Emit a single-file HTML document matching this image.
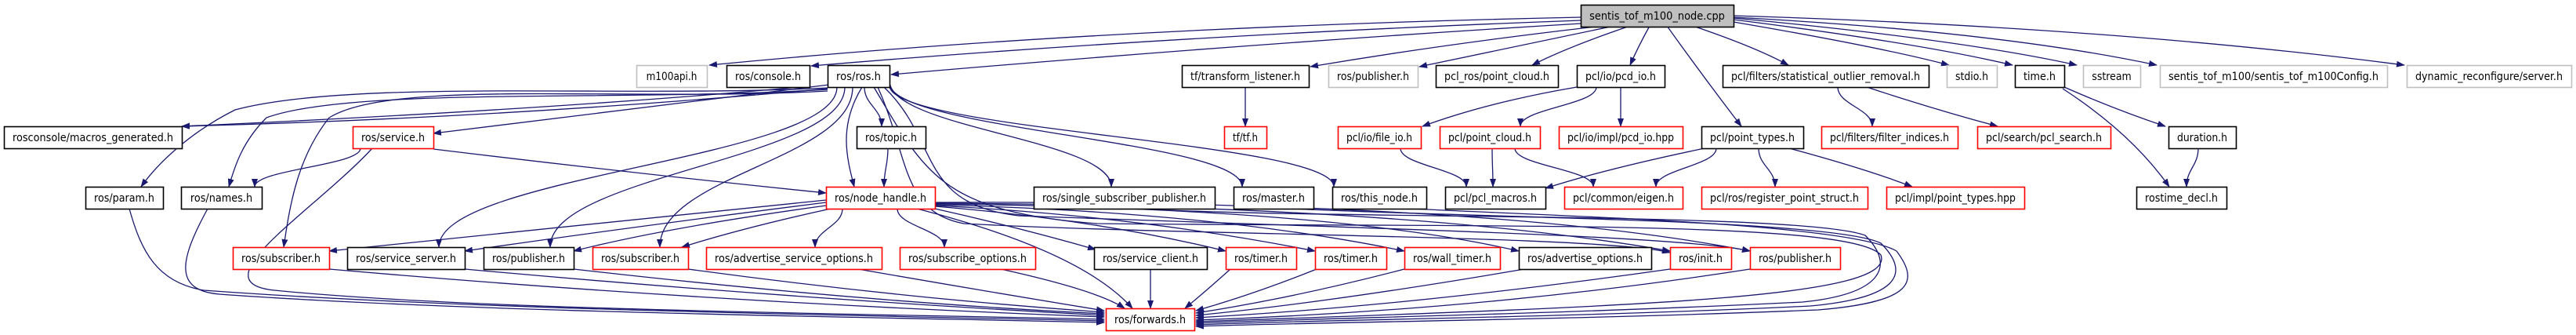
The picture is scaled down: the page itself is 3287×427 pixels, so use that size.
<!DOCTYPE html>
<html><head><meta charset="utf-8"><style>
html,body{margin:0;padding:0;background:#fff;width:3287px;height:427px;overflow:hidden}
svg{display:block}
text{font-family:"DejaVu Sans","Liberation Sans",sans-serif;font-size:14px;fill:#000}
</style></head><body>
<svg id="g" width="3287" height="427" viewBox="0 0 3287 427" xmlns="http://www.w3.org/2000/svg">
<defs><marker id="a" markerWidth="11" markerHeight="8" refX="10" refY="4" orient="auto" markerUnits="userSpaceOnUse"><path d="M0,0 L11,4 L0,8 z" fill="#191970"/></marker></defs>
<g id="edges" fill="none" stroke="#191970" stroke-width="1.3"></g>
<g id="nodes"></g>
</svg>
<script>
var R=[6,83,161,238,315,393];
var N={
S:[2017,2212,0,'sentis_tof_m100_node.cpp','k'],
m100:[812,902,1,'m100api.h','g'],console:[927,1033,1,'ros/console.h','b'],ros:[1056,1135,1,'ros/ros.h','b'],
tfl:[1508,1670,1,'tf/transform_listener.h','b'],pubg:[1695,1809,1,'ros/publisher.h','g'],pclros:[1832,1988,1,'pcl_ros/point_cloud.h','b'],
pcdio:[2012,2124,1,'pcl/io/pcd_io.h','b'],stat:[2198,2461,1,'pcl/filters/statistical_outlier_removal.h','b'],
stdio:[2484,2548,1,'stdio.h','g'],time:[2571,2634,1,'time.h','b'],sstream:[2658,2731,1,'sstream','g'],
config:[2756,3046,1,'sentis_tof_m100/sentis_tof_m100Config.h','g'],dyn:[3071,3281,1,'dynamic_reconfigure/server.h','g'],
macros:[5,232,2,'rosconsole/macros_generated.h','b'],service:[450,553,2,'ros/service.h','r'],topic:[1093,1181,2,'ros/topic.h','b'],
tf:[1562,1616,2,'tf/tf.h','r'],fileio:[1707,1813,2,'pcl/io/file_io.h','r'],pcloud:[1837,1965,2,'pcl/point_cloud.h','r'],
pcdhpp:[1989,2147,2,'pcl/io/impl/pcd_io.hpp','r'],ptypes:[2171,2301,2,'pcl/point_types.h','b'],filt:[2324,2498,2,'pcl/filters/filter_indices.h','r'],
search:[2523,2693,2,'pcl/search/pcl_search.h','r'],duration:[2767,2853,2,'duration.h','b'],
param:[109,208,3,'ros/param.h','b'],names:[231,334,3,'ros/names.h','b'],nh:[1054,1193,3,'ros/node_handle.h','r'],
ssp:[1319,1550,3,'ros/single_subscriber_publisher.h','b'],master:[1574,1676,3,'ros/master.h','b'],thisnode:[1700,1820,3,'ros/this_node.h','b'],
macrosp:[1844,1972,3,'pcl/pcl_macros.h','b'],eigen:[1996,2147,3,'pcl/common/eigen.h','r'],regps:[2171,2383,3,'pcl/ros/register_point_struct.h','r'],
ptypeshpp:[2407,2583,3,'pcl/impl/point_types.hpp','r'],rostime:[2726,2841,3,'rostime_decl.h','b'],
sub1:[297,420,4,'ros/subscriber.h','r'],ssrv:[443,593,4,'ros/service_server.h','b'],pub:[617,732,4,'ros/publisher.h','b'],
sub2:[756,878,4,'ros/subscriber.h','r'],aso:[901,1125,4,'ros/advertise_service_options.h','r'],subopt:[1148,1321,4,'ros/subscribe_options.h','r'],
sclient:[1396,1540,4,'ros/service_client.h','b'],timer1:[1564,1654,4,'ros/timer.h','r'],timer2:[1678,1769,4,'ros/timer.h','r'],
wall:[1792,1914,4,'ros/wall_timer.h','r'],advopt:[1938,2107,4,'ros/advertise_options.h','b'],init:[2131,2209,4,'ros/init.h','r'],
pubr:[2233,2348,4,'ros/publisher.h','r'],fwd:[1411,1524,5,'ros/forwards.h','r']};
var h='';
for(var k in N){var n=N[k],y=R[n[2]],w=n[1]-n[0];
var st=n[4]=='r'?'#ff0000':n[4]=='g'?'#bfbfbf':'#000';var fill=n[4]=='k'?'#bfbfbf':'#fff';
h+='<rect x="'+(n[0]+0.5)+'" y="'+(y+0.5)+'" width="'+w+'" height="28" fill="'+fill+'" stroke="'+st+'" stroke-width="1.6"/>';
var tl=w-22; if(tl>n[3].length*7.2) tl=n[3].length*7.2;
h+='<text x="'+(n[0]+w/2)+'" y="'+(y+19)+'" text-anchor="middle" textLength="'+tl+'" lengthAdjust="spacingAndGlyphs">'+n[3]+'</text>';}
document.getElementById('nodes').innerHTML=h;
var e='';
function P(d){e+='<path d="'+d+'" marker-end="url(#a)"/>';}
function C(sx,sy,ex,ey,f){f=f||0.45;var dy=ey-sy;P('M'+sx+','+sy+' C'+sx+','+(sy+dy*f)+' '+ex+','+(ey-dy*f)+' '+ex+','+ey);}
function Q(sx,sy,cx,cy,ex,ey){P('M'+sx+','+sy+' Q'+cx+','+cy+' '+ex+','+ey);}
Q(2017,22,1400,35,905,83);Q(2017,26,1500,45,1035,84);Q(2017,30,1600,55,1137,95);
Q(2045,33,1850,55,1672,85);Q(2060,33,1930,60,1811,85);Q(2080,33,2000,60,1955,83);Q(2105,33,2090,60,2080,83);
Q(2127,33,2175,100,2222,161);Q(2160,33,2240,60,2282,83);
Q(2212,28,2400,60,2487,83);Q(2212,25,2450,55,2568,83);Q(2212,23,2500,50,2650,83);Q(2212,22,2550,40,2752,83);Q(2212,20,2700,35,3068,83);
Q(1020,111,700,140,232,161);Q(1056,113,650,150,232,161);Q(1058,108,800,140,553,170);
P('M1056,112 C800,125 450,100 300,140 C240,170 200,210 180,238');
P('M1056,114 C800,130 450,110 340,150 C310,180 300,210 292,238');
P('M1056,116 C800,130 500,100 420,150 C380,200 370,260 362,315');
C(1068,111,560,315);C(1078,111,702,315);C(1088,111,842,315);
C(1103,111,1125,161);P('M1100,111 C1070,160 1080,200 1090,238');
C(1135,103,1418,238);C(1135,106,1585,238);C(1135,109,1702,238);
P('M1120,111 C1160,200 1150,270 1230,285 C1500,300 2050,300 2131,322');
P('M1128,111 C1200,180 1170,260 1300,275 C1700,290 2150,300 2233,320');
P('M1115,111 C1180,220 1200,270 1400,285 C1900,290 2360,280 2400,325 C2420,380 2100,390 1526,410');
C(460,189,325,238);Q(553,190,800,220,1054,246);
P('M475,189 C400,270 250,360 350,370 C600,395 1100,400 1409,407');
P('M165,266 C180,320 200,360 260,370 C600,395 1100,402 1409,409');
P('M265,266 C230,330 220,370 280,375 C600,398 1100,404 1409,411');
C(1133,189,1128,238);
Q(1054,255,700,290,420,320);Q(1054,258,800,290,593,320);Q(1054,262,850,290,732,320);Q(1060,266,950,290,870,315);
C(1075,266,1040,315);C(1145,266,1205,315);Q(1193,266,1300,290,1398,318);
Q(1193,263,1400,280,1564,320);Q(1193,262,1450,275,1678,320);Q(1193,261,1550,270,1792,320);Q(1193,260,1700,265,1938,320);Q(1193,259,1800,262,2131,320);
Q(1193,258,1900,255,2233,320);Q(1170,266,1380,320,1445,393);
C(1589,111,1589,161);Q(2012,111,1900,130,1815,161);C(2037,111,1940,161);C(2068,111,2068,161);
C(1787,189,1871,238);C(1904,189,1905,238);C(1933,189,2033,238);
Q(2175,189,2050,215,1972,240);C(2190,189,2113,238);C(2244,189,2265,238);Q(2283,189,2380,215,2440,238);
C(2345,111,2389,161);Q(2382,111,2470,140,2549,161);
Q(2634,111,2700,140,2763,161);Q(2632,113,2720,170,2768,238);C(2805,189,2790,238);
P('M1450,266 C1700,280 2300,270 2380,300 C2420,340 2400,375 2300,385 C2000,400 1700,405 1526,412');
P('M1650,266 C1900,278 2340,280 2400,310 C2440,350 2420,380 2310,390 C2000,405 1700,407 1526,414');
P('M1800,266 C2000,276 2360,285 2420,320 C2450,360 2440,385 2320,395 C2000,408 1700,410 1526,416');
Q(420,343,900,385,1409,404);Q(593,343,1000,380,1409,402);Q(732,343,1100,385,1409,400);Q(878,343,1150,380,1409,398);
Q(1095,343,1250,370,1409,396);Q(1277,343,1400,370,1435,393);C(1468,343,1468,393);
Q(1570,343,1540,370,1512,393);Q(1680,343,1600,375,1526,396);Q(1792,343,1650,380,1526,399);
Q(1945,343,1700,385,1526,402);Q(2131,343,1800,390,1526,405);Q(2233,343,1900,395,1526,408);
document.getElementById('edges').innerHTML=e;
</script>
</body></html>
